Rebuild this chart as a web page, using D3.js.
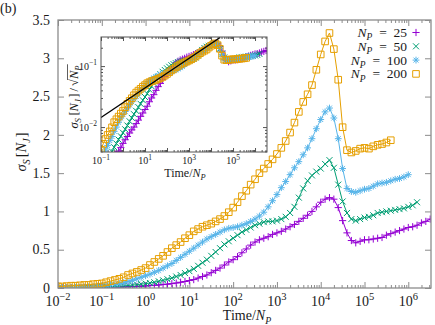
<!DOCTYPE html>
<html>
<head>
<meta charset="utf-8">
<script src="https://cdn.jsdelivr.net/npm/d3@7"></script>
<style>
body{margin:0;background:#fff;}
svg{display:block;}
svg text{font-family:'Liberation Serif','DejaVu Serif','Times New Roman',Times,serif;fill:#1a1a1a;}
</style>
</head>
<body>
<script>
// time / N_P, given as log10 exponents
const timeExp = [
  -2,-1.9,-1.8,-1.7,-1.6,-1.5,-1.4,-1.3,-1.2,-1.1,
  -1,-0.9,-0.8,-0.7,-0.6,-0.5,-0.4,-0.3,-0.2,-0.1,
  0,0.1,0.2,0.3,0.4,0.5,0.6,0.7,0.8,0.9,
  1,1.1,1.2,1.3,1.4,1.5,1.6,1.7,1.8,1.9,
  2,2.1,2.2,2.3,2.4,2.5,2.6,2.7,2.8,2.9,
  3,3.1,3.2,3.3,3.4,3.5,3.6,3.7,3.8,3.9,
  4,4.1,4.2,4.3,4.4,4.5,4.6,4.7,4.8,4.9,
  5,5.1,5.2,5.3,5.4,5.5,5.6,5.7,5.8,5.9,
  6,6.1,6.2,6.3,6.4,6.5
];

// sigma_S[N_J] for each N_P
const sigma25 = [
  0.002,0.002,0.002,0.003,0.003,0.003,0.004,0.004,0.005,0.006,
  0.007,0.008,0.009,0.01,0.012,0.014,0.016,0.018,0.02,0.023,
  0.027,0.031,0.035,0.04,0.045,0.05,0.057,0.065,0.075,0.085,
  0.097,0.11,0.13,0.15,0.17,0.2,0.23,0.26,0.3,0.34,
  0.37,0.41,0.46,0.51,0.56,0.6,0.63,0.65,0.67,0.7,
  0.72,0.74,0.77,0.8,0.83,0.87,0.91,0.95,1.0,1.06,
  1.12,1.16,1.18,1.16,1.05,0.88,0.72,0.62,0.59,0.61,
  0.63,0.63,0.64,0.65,0.66,0.69,0.71,0.73,0.75,0.77,
  0.79,0.8,0.82,0.85,0.87,0.9
];
const sigma50 = [
  0.003,0.003,0.004,0.004,0.005,0.006,0.007,0.008,0.009,0.011,
  0.013,0.015,0.018,0.021,0.024,0.028,0.033,0.038,0.044,0.05,
  0.057,0.065,0.075,0.088,0.1,0.115,0.13,0.15,0.17,0.195,
  0.22,0.25,0.29,0.33,0.37,0.42,0.47,0.52,0.57,0.61,
  0.65,0.69,0.73,0.76,0.79,0.82,0.84,0.86,0.87,0.87,
  0.88,0.9,0.93,0.98,1.06,1.18,1.3,1.4,1.47,1.52,
  1.56,1.62,1.67,1.57,1.35,1.13,0.98,0.9,0.88,0.9,
  0.92,0.93,0.95,0.98,0.99,1.0,1.01,1.02,1.03,1.04,
  1.06,1.08,1.12
];
const sigma100 = [
  0.005,0.005,0.007,0.008,0.01,0.012,0.014,0.017,0.02,0.025,
  0.03,0.035,0.042,0.05,0.06,0.07,0.085,0.1,0.12,0.14,
  0.16,0.18,0.205,0.23,0.26,0.29,0.32,0.36,0.4,0.44,
  0.48,0.52,0.56,0.6,0.64,0.67,0.7,0.73,0.76,0.78,
  0.79,0.8,0.82,0.84,0.87,0.9,0.94,0.99,1.06,1.14,
  1.22,1.31,1.39,1.48,1.57,1.65,1.74,1.83,1.95,2.08,
  2.2,2.3,2.35,2.22,1.95,1.56,1.3,1.26,1.25,1.27,
  1.29,1.3,1.33,1.36,1.37,1.38,1.4,1.42,1.43,1.45,
  1.48
];
const sigma200 = [
  0.02,0.02,0.025,0.03,0.03,0.035,0.04,0.04,0.05,0.055,
  0.06,0.075,0.09,0.105,0.12,0.14,0.17,0.19,0.21,0.235,
  0.26,0.3,0.34,0.38,0.42,0.47,0.52,0.56,0.6,0.65,
  0.69,0.74,0.77,0.8,0.82,0.84,0.87,0.9,0.94,0.99,
  1.05,1.12,1.2,1.27,1.35,1.42,1.5,1.56,1.62,1.68,
  1.75,1.83,1.92,2.03,2.16,2.3,2.43,2.53,2.65,2.85,
  3.05,3.22,3.33,3.12,2.72,2.1,1.8,1.77,1.79,1.82,
  1.83,1.82,1.85,1.87,1.88,1.9,1.93
];

const npValues = [25, 50, 100, 200];
const colors = ["#9400d3", "#009e73", "#56b4e9", "#e69f00"];
const symbols = ["plus", "cross", "star", "square"];

const xTickExp = [-2,-1,0,1,2,3,4,5,6];
const yTicks = [0,0.5,1,1.5,2,2.5,3,3.5];
const insetXTickExp = [-1,0,1,2,3,4,5,6];
const insetXLabelExp = [-1,1,3,5];
const insetYTickExp = [-2,-1];
// power-law guide in the inset: [time, sigma/sqrt(N_P)]
const fitLine = [[0.1, 0.0144], [2.6e4, 0.295]];

const W = 435, H = 325;
const main = {left: 58, right: 431, top: 20, bottom: 288};
const ins = {left: 101, right: 267, top: 37, bottom: 152};
const frameColor = "#8c8c8c";
const serif = "'Liberation Serif','DejaVu Serif','Times New Roman',Times,serif";

const svg = d3.select("body").append("svg").attr("width", W).attr("height", H)
  .attr("font-family", serif);
svg.append("rect").attr("width", W).attr("height", H).attr("fill", "#fff");

const x = d3.scaleLog().domain([1e-2, 3.3e6]).range([main.left, main.right]);
const y = d3.scaleLinear().domain([0, 3.5]).range([main.bottom, main.top]);
const xi = d3.scaleLog().domain([0.1, 3.5e6]).range([ins.left, ins.right]);
const yi = d3.scaleLog().domain([0.0039, 0.3]).range([ins.bottom, ins.top]);

const seriesVals = [sigma25, sigma50, sigma100, sigma200];
const series = npValues.map((np, i) => ({
  np: np, color: colors[i], symbol: symbols[i],
  points: seriesVals[i].map((v, j) => ({t: Math.pow(10, timeExp[j]), v: v}))
}));

function symbolPath(type, s){
  if(type === "plus") return `M${-s},0H${s}M0,${-s}V${s}`;
  if(type === "cross") return `M${-s},${-s}L${s},${s}M${-s},${s}L${s},${-s}`;
  if(type === "star"){
    const d = s * 0.72;
    return `M${-s},0H${s}M0,${-s}V${s}M${-d},${-d}L${d},${d}M${-d},${d}L${d},${-d}`;
  }
  return `M${-s},${-s}H${s}V${s}H${-s}Z`;
}
const symSize = {plus: 3.6, cross: 3.0, star: 3.4, square: 3.3};

// text with italic / subscript parts
function mathText(sel, parts, size){
  sel.attr("font-family", serif);
  let shift = 0;
  parts.forEach(p => {
    const ts = sel.append("tspan").text(p.t);
    const target = p.sub ? size * 0.25 : 0;
    ts.attr("dy", target - shift);
    shift = target;
    if(p.sub) ts.style("font-size", (size * 0.7) + "px");
    if(p.it) ts.style("font-style", "italic");
    if(p.dx) ts.attr("dx", p.dx);
    p.node = ts;
  });
  return parts;
}

function powerLabel(g, xp, yp, e, size){
  const t = g.append("text").attr("x", xp).attr("y", yp).attr("font-family", serif)
    .attr("text-anchor", "middle").style("font-size", size + "px");
  t.append("tspan").text("10");
  t.append("tspan").attr("dy", -0.42 * size).style("font-size", (size * 0.75) + "px")
    .text(e < 0 ? "\u2212" + (-e) : String(e));
  return t;
}

function drawSeries(g, xs, ys, scaleV){
  series.forEach(s => {
    const val = d => d.v / scaleV(s.np);
    g.append("path").datum(s.points)
      .attr("fill", "none").attr("stroke", s.color).attr("stroke-width", 1)
      .attr("d", d3.line().x(d => xs(d.t)).y(d => ys(val(d))));
    g.selectAll(null).data(s.points).enter().append("path")
      .attr("transform", d => `translate(${xs(d.t)},${ys(val(d))})`)
      .attr("d", symbolPath(s.symbol, symSize[s.symbol]))
      .attr("fill", "none").attr("stroke", s.color).attr("stroke-width", 1);
  });
}

function minorTicks(exps, maxV){
  const out = [];
  exps.forEach(e => { for(let m = 2; m <= 9; m++){ const v = m * Math.pow(10, e); if(v < maxV) out.push(v); } });
  return out;
}

// ---------- main plot ----------
const defs = svg.append("defs");
defs.append("clipPath").attr("id", "clipMain").append("rect")
  .attr("x", main.left).attr("y", main.top)
  .attr("width", main.right - main.left).attr("height", main.bottom - main.top);
defs.append("clipPath").attr("id", "clipInset").append("rect")
  .attr("x", ins.left).attr("y", ins.top)
  .attr("width", ins.right - ins.left).attr("height", ins.bottom - ins.top);

const majorX = xTickExp.map(e => Math.pow(10, e));
const minorX = minorTicks(xTickExp, x.domain()[1]);

function styleAxis(g, color){
  g.select(".domain").remove();
  g.selectAll("line").attr("stroke", color);
  g.selectAll("text").remove();
}

svg.append("g").attr("transform", `translate(0,${main.bottom})`)
  .call(d3.axisBottom(x).tickValues(majorX).tickSize(-6)).call(styleAxis, frameColor);
svg.append("g").attr("transform", `translate(0,${main.bottom})`)
  .call(d3.axisBottom(x).tickValues(minorX).tickSize(-3)).call(styleAxis, frameColor);
svg.append("g").attr("transform", `translate(0,${main.top})`)
  .call(d3.axisTop(x).tickValues(majorX).tickSize(-6)).call(styleAxis, frameColor);
svg.append("g").attr("transform", `translate(0,${main.top})`)
  .call(d3.axisTop(x).tickValues(minorX).tickSize(-3)).call(styleAxis, frameColor);
svg.append("g").attr("transform", `translate(${main.left},0)`)
  .call(d3.axisLeft(y).tickValues(yTicks).tickSize(-6)).call(styleAxis, frameColor);
svg.append("g").attr("transform", `translate(${main.right},0)`)
  .call(d3.axisRight(y).tickValues(yTicks).tickSize(-6)).call(styleAxis, frameColor);

const labels = svg.append("g");
xTickExp.forEach(e => powerLabel(labels, x(Math.pow(10, e)), 306, e, 14));
yTicks.forEach(v => labels.append("text").attr("x", 50).attr("y", y(v)).attr("dy", "0.34em")
  .attr("font-family", serif).attr("text-anchor", "end").style("font-size", "14px").text(String(v)));

const mainData = svg.append("g").attr("clip-path", "url(#clipMain)");
drawSeries(mainData, x, y, () => 1);

svg.append("rect").attr("x", main.left).attr("y", main.top)
  .attr("width", main.right - main.left).attr("height", main.bottom - main.top)
  .attr("fill", "none").attr("stroke", frameColor).attr("stroke-width", 1.3);

// axis titles
const xt = svg.append("text").attr("x", 247).attr("y", 320).attr("text-anchor", "middle").style("font-size", "14px");
mathText(xt, [{t: "Time/"}, {t: "N", it: true}, {t: "P", it: true, sub: true}], 14);

const yt = svg.append("text").attr("transform", "translate(26,152) rotate(-90)")
  .attr("text-anchor", "middle").style("font-size", "14.5px");
mathText(yt, [{t: "\u03c3", it: true}, {t: "S", it: true, sub: true}, {t: "[", dx: 2},
  {t: "N", it: true}, {t: "J", it: true, sub: true}, {t: "]", dx: 1}], 14.5);

svg.append("text").attr("x", 0).attr("y", 13).attr("font-family", serif).style("font-size", "14px").text("(b)");

// legend
const legend = svg.append("g");
series.forEach((s, i) => {
  const by = 37 + i * 13.8;
  const t = legend.append("text").attr("x", 407).attr("y", by).attr("text-anchor", "end").style("font-size", "13.5px");
  mathText(t, [{t: "N", it: true}, {t: "P", it: true, sub: true}, {t: "\u2002=\u2002"}, {t: String(s.np)}], 13.5);
  legend.append("path").attr("transform", `translate(416,${by - 4.5})`)
    .attr("d", symbolPath(s.symbol, symSize[s.symbol]))
    .attr("fill", "none").attr("stroke", s.color).attr("stroke-width", 1);
});

// ---------- inset ----------
const insetColor = "#555";
svg.append("rect").attr("x", ins.left).attr("y", ins.top)
  .attr("width", ins.right - ins.left).attr("height", ins.bottom - ins.top).attr("fill", "#fff");

const majorXi = insetXTickExp.map(e => Math.pow(10, e));
const minorXi = minorTicks(insetXTickExp, xi.domain()[1]);
const majorYi = insetYTickExp.map(e => Math.pow(10, e));
const minorYi = minorTicks([-3, -2, -1], yi.domain()[1]).filter(v => v > yi.domain()[0]);

svg.append("g").attr("transform", `translate(0,${ins.bottom})`)
  .call(d3.axisBottom(xi).tickValues(majorXi).tickSize(-4)).call(styleAxis, insetColor);
svg.append("g").attr("transform", `translate(0,${ins.bottom})`)
  .call(d3.axisBottom(xi).tickValues(minorXi).tickSize(-2)).call(styleAxis, insetColor);
svg.append("g").attr("transform", `translate(0,${ins.top})`)
  .call(d3.axisTop(xi).tickValues(majorXi).tickSize(-4)).call(styleAxis, insetColor);
svg.append("g").attr("transform", `translate(0,${ins.top})`)
  .call(d3.axisTop(xi).tickValues(minorXi).tickSize(-2)).call(styleAxis, insetColor);
svg.append("g").attr("transform", `translate(${ins.left},0)`)
  .call(d3.axisLeft(yi).tickValues(majorYi).tickSize(-4)).call(styleAxis, insetColor);
svg.append("g").attr("transform", `translate(${ins.left},0)`)
  .call(d3.axisLeft(yi).tickValues(minorYi).tickSize(-2)).call(styleAxis, insetColor);
svg.append("g").attr("transform", `translate(${ins.right},0)`)
  .call(d3.axisRight(yi).tickValues(majorYi).tickSize(-4)).call(styleAxis, insetColor);
svg.append("g").attr("transform", `translate(${ins.right},0)`)
  .call(d3.axisRight(yi).tickValues(minorYi).tickSize(-2)).call(styleAxis, insetColor);

const insetData = svg.append("g").attr("clip-path", "url(#clipInset)");
drawSeries(insetData, xi, yi, np => Math.sqrt(np));
insetData.append("path").datum(fitLine)
  .attr("fill", "none").attr("stroke", "#000").attr("stroke-width", 1.3)
  .attr("d", d3.line().x(d => xi(d[0])).y(d => yi(d[1])));

svg.append("rect").attr("x", ins.left).attr("y", ins.top)
  .attr("width", ins.right - ins.left).attr("height", ins.bottom - ins.top)
  .attr("fill", "none").attr("stroke", insetColor).attr("stroke-width", 1);

insetXLabelExp.forEach(e => powerLabel(labels, xi(Math.pow(10, e)), 164, e, 10));
insetYTickExp.forEach(e => {
  const t = powerLabel(svg, 0, 0, e, 10);
  t.attr("text-anchor", "end").attr("x", 97).attr("y", yi(Math.pow(10, e)) + 3.5);
});

const ixt = svg.append("text").attr("x", 185).attr("y", 177).attr("text-anchor", "middle").style("font-size", "12px");
mathText(ixt, [{t: "Time/"}, {t: "N", it: true}, {t: "P", it: true, sub: true}], 12);

const iyg = svg.append("g").attr("transform", "translate(78,97) rotate(-90)");
const iyt = iyg.append("text").attr("text-anchor", "middle").style("font-size", "12.5px");
const iparts = mathText(iyt, [{t: "\u03c3", it: true}, {t: "S", it: true, sub: true}, {t: "[", dx: 2.5},
  {t: "N", it: true}, {t: "J", it: true, sub: true}, {t: "]", dx: 1.5}, {t: "/", dx: 2},
  {t: "\u221a", dx: 2}, {t: "N", it: true}, {t: "P", it: true, sub: true}], 12.5);
// overline for the square root
const bN = iparts[8].node.node().getBBox();
const bP = iparts[9].node.node().getBBox();
const bR = iparts[7].node.node().getBBox();
iyg.append("line").attr("x1", bR.x + bR.width - 1).attr("x2", bP.x + bP.width + 0.5)
  .attr("y1", bN.y + 0.5).attr("y2", bN.y + 0.5).attr("stroke", "#1a1a1a").attr("stroke-width", 0.7);
</script>
</body>
</html>
